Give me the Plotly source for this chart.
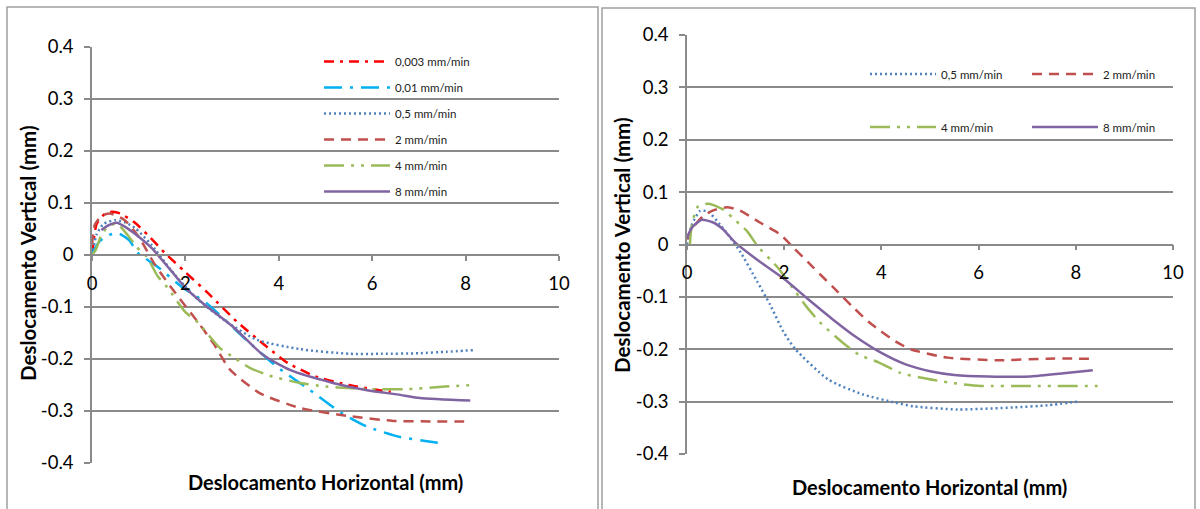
import plotly.graph_objects as go

W, H = 1200, 509

# ---------------- data: left panel ----------------
L_names = ["0,003 mm/min", "0,01 mm/min", "0,5 mm/min", "2 mm/min", "4 mm/min", "8 mm/min"]

L_x_0003 = [0, 0.1, 0.25, 0.42, 0.6, 0.92, 1.2, 1.56, 2.0, 2.48, 3.1, 3.75, 4.2, 4.8, 5.5, 6.0, 6.4]
L_y_0003 = [0.0, 0.06, 0.077, 0.083, 0.08, 0.062, 0.038, 0.004, -0.033, -0.073, -0.128, -0.177, -0.208, -0.234, -0.25, -0.258, -0.263]

L_x_001 = [0, 0.15, 0.35, 0.56, 0.8, 0.98, 1.41, 1.93, 2.46, 3.3, 3.96, 4.67, 5.31, 5.89, 6.6, 7.1, 7.55]
L_y_001 = [0.003, 0.025, 0.038, 0.042, 0.028, 0.004, -0.023, -0.062, -0.093, -0.163, -0.215, -0.26, -0.302, -0.33, -0.35, -0.357, -0.363]

L_x_05 = [0, 0.1, 0.25, 0.49, 0.7, 0.92, 1.28, 1.7, 2.2, 2.89, 3.53, 4.45, 5.52, 6.2, 7.0, 7.6, 8.16]
L_y_05 = [0.0, 0.04, 0.06, 0.067, 0.063, 0.052, 0.019, -0.03, -0.08, -0.129, -0.163, -0.181, -0.19, -0.19, -0.189, -0.186, -0.183]

L_x_2 = [0, 0.06, 0.2, 0.38, 0.7, 1.0, 1.35, 1.8, 2.2, 2.6, 2.96, 3.6, 4.45, 5.52, 6.45, 7.24, 8.1]
L_y_2 = [0.02, 0.058, 0.075, 0.08, 0.067, 0.035, -0.019, -0.075, -0.121, -0.17, -0.221, -0.266, -0.294, -0.31, -0.319, -0.32, -0.32]

L_x_4 = [0, 0.08, 0.2, 0.35, 0.53, 0.75, 0.96, 1.18, 1.4, 1.61, 2.0, 2.27, 2.74, 3.02, 3.38, 3.8, 4.45, 5.0, 5.5, 6.0, 6.75, 7.56, 8.16]
L_y_4 = [0.0, 0.01, 0.038, 0.055, 0.06, 0.04, 0.015, -0.004, -0.04, -0.062, -0.11, -0.13, -0.179, -0.196, -0.217, -0.232, -0.246, -0.253, -0.256, -0.258, -0.258, -0.253, -0.25]

L_x_8 = [0.2, 0.35, 0.53, 0.71, 1.0, 1.28, 1.71, 2.0, 2.42, 3.02, 3.66, 4.24, 5.16, 5.89, 6.6, 7.02, 8.1]
L_y_8 = [0.048, 0.057, 0.062, 0.054, 0.035, 0.013, -0.032, -0.063, -0.096, -0.138, -0.192, -0.221, -0.246, -0.26, -0.269, -0.275, -0.28]

# ---------------- data: right panel ----------------
R_names = ["0,5 mm/min", "2 mm/min", "4 mm/min", "8 mm/min"]

R_x_05 = [0, 0.1, 0.27, 0.43, 0.68, 0.89, 1.09, 1.44, 1.71, 1.98, 2.23, 2.91, 3.61, 4.29, 4.66, 5.57, 6.72, 7.42, 8.04]
R_y_05 = [0, 0.038, 0.064, 0.063, 0.038, 0.013, -0.013, -0.07, -0.115, -0.166, -0.2, -0.258, -0.286, -0.302, -0.309, -0.315, -0.311, -0.307, -0.3]

R_x_2 = [0, 0.1, 0.33, 0.54, 0.82, 1.09, 1.5, 1.92, 2.19, 2.6, 3.01, 3.42, 3.73, 3.98, 4.29, 4.6, 5.36, 6.39, 7.42, 8.27]
R_y_2 = [0.01, 0.03, 0.054, 0.065, 0.071, 0.065, 0.042, 0.019, -0.006, -0.044, -0.082, -0.12, -0.147, -0.165, -0.185, -0.2, -0.216, -0.221, -0.218, -0.218]

R_x_4 = [0.06, 0.1, 0.23, 0.45, 0.74, 0.93, 1.09, 1.24, 1.46, 1.75, 1.92, 2.23, 2.47, 2.74, 3.2, 3.53, 3.94, 4.39, 4.8, 5.42, 6.04, 7.0, 8.45]
R_y_4 = [0.0, 0.038, 0.073, 0.078, 0.067, 0.052, 0.038, 0.025, -0.004, -0.032, -0.05, -0.09, -0.12, -0.149, -0.187, -0.21, -0.225, -0.245, -0.254, -0.264, -0.27, -0.27, -0.27]

R_x_8 = [0, 0.1, 0.3, 0.54, 0.74, 1.0, 1.5, 2.0, 2.5, 3.0, 3.5, 4.0, 4.5, 5.0, 5.5, 6.2, 7.07, 7.75, 8.35]
R_y_8 = [0.013, 0.032, 0.047, 0.042, 0.029, 0.003, -0.033, -0.066, -0.105, -0.143, -0.178, -0.207, -0.229, -0.242, -0.249, -0.252, -0.252, -0.246, -0.24]

# ---------------- axis ticks ----------------
y_tickvals = [-0.4, -0.3, -0.2, -0.1, 0, 0.1, 0.2, 0.3, 0.4]
y_ticktext = ["-0.4", "-0.3", "-0.2", "-0.1", "0", "0.1", "0.2", "0.3", "0.4"]
x_tickvals = [0, 2, 4, 6, 8, 10]
x_ticktext = ["0", "2", "4", "6", "8", "10"]

x_title = "Deslocamento Horizontal (mm)"
y_title = "Deslocamento Vertical (mm)"

# ---------------- styles ----------------
C_RED, C_CYAN, C_BLUE, C_BROWN, C_GREEN, C_PURPLE = "#FF0000", "#00B0F0", "#4F81BD", "#C0504D", "#9BBB59", "#8064A2"
D_0003 = "10px,6px,3px,6px"
D_001 = "18px,8px,3px,8px"
D_05 = "2px,3px"
D_2 = "10px,7px"
D_4 = "20px,7px,3px,7px,3px,7px"
LW = 2.5

FONT = "Lato, 'Open Sans', sans-serif"
GRID = "#8A8A8A"

fig = go.Figure()

left_series = [
    (L_x_0003, L_y_0003, C_RED, D_0003),
    (L_x_001, L_y_001, C_CYAN, D_001),
    (L_x_05, L_y_05, C_BLUE, D_05),
    (L_x_2, L_y_2, C_BROWN, D_2),
    (L_x_4, L_y_4, C_GREEN, D_4),
    (L_x_8, L_y_8, C_PURPLE, "solid"),
]
for i, (name, (xs, ys, c, d)) in enumerate(zip(L_names, left_series)):
    fig.add_trace(go.Scatter(x=xs, y=ys, mode="lines", name=name,
                             line=dict(color=c, dash=d, width=LW, shape="spline", smoothing=0.6),
                             xaxis="x", yaxis="y", legend="legend", legendgroup="L%d" % i))

right_series = [
    (R_x_05, R_y_05, C_BLUE, D_05, "legend2"),
    (R_x_2, R_y_2, C_BROWN, D_2, "legend3"),
    (R_x_4, R_y_4, C_GREEN, D_4, "legend4"),
    (R_x_8, R_y_8, C_PURPLE, "solid", "legend5"),
]
for name, (xs, ys, c, d, lg) in zip(R_names, right_series):
    fig.add_trace(go.Scatter(x=xs, y=ys, mode="lines", name=name,
                             line=dict(color=c, dash=d, width=LW, shape="spline", smoothing=0.6),
                             xaxis="x2", yaxis="y2", legend=lg))

# ---------------- layout geometry (pixels -> paper) ----------------
def px_x(p):
    return p / W

def px_y(p):
    return 1 - p / H

L_xdom = [px_x(92), px_x(559)]
L_ydom = [px_y(463), px_y(47)]
R_xdom = [px_x(687), px_x(1173)]
R_ydom = [px_y(454), px_y(35)]

yr = [-0.4, 0.4]

def zero_pos(dom):
    return dom[0] + (0 - yr[0]) / (yr[1] - yr[0]) * (dom[1] - dom[0])

tickfont = dict(family=FONT, size=18.5, color="#000000")

def xaxis_cfg(dom, ydom):
    return dict(domain=dom, range=[0, 10], tickvals=x_tickvals, ticktext=x_ticktext, showgrid=False,
                zeroline=False, showline=True, linecolor=GRID, linewidth=1.5, ticks="outside", ticklen=5,
                tickcolor=GRID, tickwidth=1.5, tickfont=tickfont, anchor="free", position=zero_pos(ydom),
                ticklabelstandoff=7, fixedrange=True, automargin=False)

def yaxis_cfg(dom, anchor_x):
    return dict(domain=dom, range=yr, tickvals=y_tickvals, ticktext=y_ticktext, showgrid=True, gridcolor=GRID,
                gridwidth=1.5, zeroline=False, showline=True, linecolor=GRID, linewidth=1.5, ticks="outside",
                ticklen=6, tickcolor=GRID, tickwidth=1.5, tickfont=tickfont, anchor=anchor_x, ticklabelstandoff=7,
                fixedrange=True, automargin=False)

legfont = dict(family=FONT, size=11.5, color="#222222")
ITEMW = 66

def one_legend(xp, yp):
    return dict(x=px_x(xp), y=px_y(yp), xanchor="left", yanchor="middle", bgcolor="rgba(0,0,0,0)",
                font=legfont, itemwidth=ITEMW)

fig.update_layout(
    width=W, height=H, autosize=False,
    margin=dict(l=0, r=0, t=0, b=0, autoexpand=False),
    paper_bgcolor="white", plot_bgcolor="white",
    xaxis=xaxis_cfg(L_xdom, L_ydom),
    yaxis=yaxis_cfg(L_ydom, "x"),
    xaxis2=xaxis_cfg(R_xdom, R_ydom),
    yaxis2=yaxis_cfg(R_ydom, "x2"),
    legend=dict(x=px_x(319), y=px_y(47), xanchor="left", yanchor="top", bgcolor="rgba(0,0,0,0)",
                font=legfont, tracegroupgap=7, itemwidth=ITEMW),
    legend2=one_legend(865, 74),
    legend3=one_legend(1027, 74),
    legend4=one_legend(865, 127),
    legend5=one_legend(1027, 127),
    showlegend=True,
)

titlefont_x = dict(family=FONT, size=20, color="#000000")
titlefont_y = dict(family=FONT, size=20.5, color="#000000")
fig.add_annotation(text="<b>%s</b>" % x_title, xref="paper", yref="paper", x=px_x(325), y=px_y(482),
                   showarrow=False, font=titlefont_x, xanchor="center", yanchor="middle")
fig.add_annotation(text="<b>%s</b>" % x_title, xref="paper", yref="paper", x=px_x(929), y=px_y(487),
                   showarrow=False, font=titlefont_x, xanchor="center", yanchor="middle")
fig.add_annotation(text="<b>%s</b>" % y_title, xref="paper", yref="paper", x=px_x(28), y=px_y(253),
                   showarrow=False, font=titlefont_y, textangle=-90, xanchor="center", yanchor="middle")
fig.add_annotation(text="<b>%s</b>" % y_title, xref="paper", yref="paper", x=px_x(622), y=px_y(245),
                   showarrow=False, font=titlefont_y, textangle=-90, xanchor="center", yanchor="middle")

# panel borders
fig.add_shape(type="rect", xref="paper", yref="paper", x0=px_x(7), x1=px_x(598), y0=-0.1, y1=px_y(7),
              line=dict(color="#A0A0A0", width=1.5), layer="below")
fig.add_shape(type="rect", xref="paper", yref="paper", x0=px_x(602), x1=px_x(1195), y0=-0.1, y1=px_y(8),
              line=dict(color="#A0A0A0", width=1.5), layer="below")

fig.write_html("out.html")
